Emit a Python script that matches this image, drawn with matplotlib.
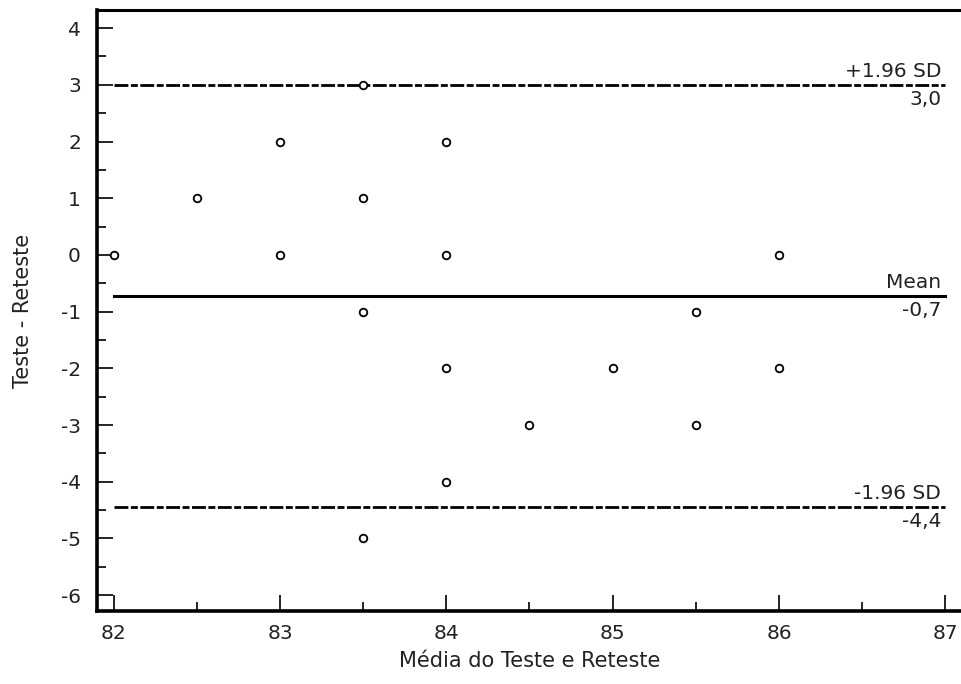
import matplotlib

matplotlib.use("Agg")

import matplotlib.pyplot as plt
from matplotlib.ticker import MultipleLocator

plt.rcParams["font.family"] = ["DejaVu Sans"]
plt.rcParams["axes.unicode_minus"] = False

# Bland-Altman data: mean of test/retest vs difference
media = [82.0, 82.5, 83.0, 83.0, 83.5, 83.5, 83.5, 83.5, 84.0, 84.0,
         84.0, 84.0, 84.5, 85.0, 85.5, 85.5, 86.0, 86.0]
diferenca = [0, 1, 2, 0, 3, 1, -1, -5, 2, 0,
             -2, -4, -3, -2, -1, -3, 0, -2]

mean_diff = -0.72
upper_loa = 3.0
lower_loa = -4.44
line_labels = ["+1.96 SD", "Mean", "-1.96 SD"]
line_values_text = ["3,0", "-0,7", "-4,4"]

fig = plt.figure(figsize=(9.62, 6.84), dpi=100, facecolor="white")
ax = fig.add_axes([0.1008, 0.1067, 0.8992, 0.8787])

x_start, x_end = 82, 87
text_color = "#222222"

ax.plot([x_start, x_end], [mean_diff, mean_diff], color="black", linewidth=2.2)
for y in (upper_loa, lower_loa):
    ax.plot([x_start, x_end], [y, y], color="black", linewidth=2.0,
            dashes=(5, 0.9, 2.5, 0.9))

ax.scatter(media, diferenca, s=30, facecolors="white", edgecolors="black",
           linewidths=1.3, zorder=3)

for label, txt, y in zip(line_labels, line_values_text, [upper_loa, mean_diff, lower_loa]):
    ax.annotate(label, xy=(x_end, y), xytext=(-3, 3), textcoords="offset points",
                ha="right", va="bottom", fontsize=14.5, color=text_color)
    ax.annotate(txt, xy=(x_end, y), xytext=(-3, -4), textcoords="offset points",
                ha="right", va="top", fontsize=14.5, color=text_color)

ax.set_xlim(81.9, 87.1)
ax.set_ylim(-6.28, 4.32)

ax.xaxis.set_major_locator(MultipleLocator(1))
ax.xaxis.set_minor_locator(MultipleLocator(0.5))
ax.yaxis.set_major_locator(MultipleLocator(1))
ax.yaxis.set_minor_locator(MultipleLocator(0.5))

ax.tick_params(which="both", direction="in", width=1.2, labelsize=14.5,
               labelcolor=text_color, top=False, right=False)
ax.tick_params(which="major", length=11.5)
ax.tick_params(which="minor", length=6.5)
ax.tick_params(axis="y", which="major", pad=11.5)
ax.tick_params(axis="x", which="major", pad=9)

ax.spines["right"].set_visible(False)
ax.spines["left"].set_linewidth(2.6)
ax.spines["bottom"].set_linewidth(2.6)
ax.spines["top"].set_linewidth(2.2)

ax.set_xlabel("Média do Teste e Reteste", fontsize=15, color=text_color, labelpad=6)
ax.set_ylabel("Teste - Reteste", fontsize=15, color=text_color, labelpad=20)

fig.savefig("out.png", dpi=100, facecolor="white")
plt.close(fig)
